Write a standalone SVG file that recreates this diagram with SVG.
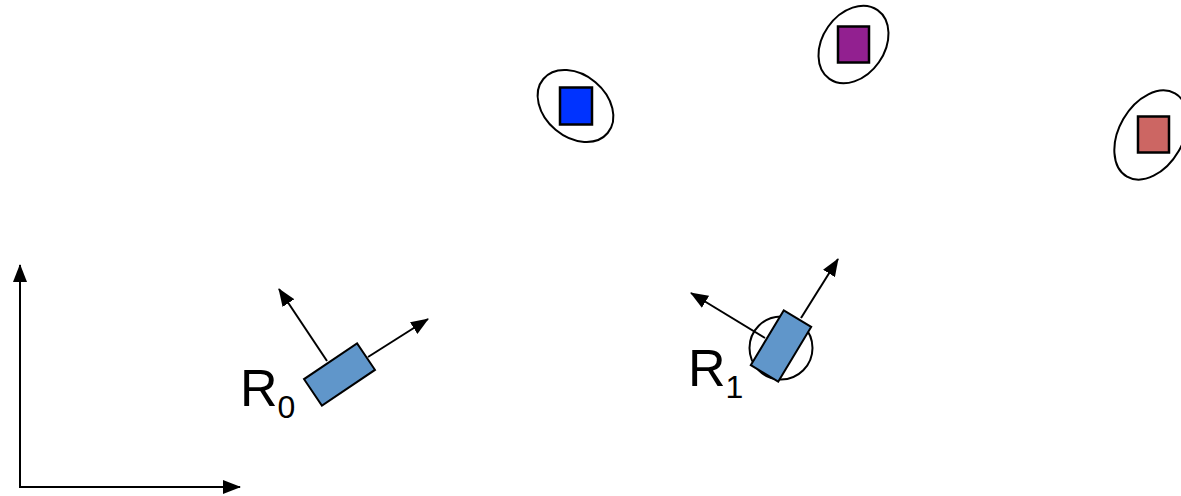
<svg xmlns="http://www.w3.org/2000/svg" width="1181" height="496" viewBox="0 0 1181 496">
<style>
.ln{stroke:#000;stroke-width:2;fill:none;marker-end:url(#ah)}
.ell{fill:none;stroke:#000;stroke-width:2}
.lm{stroke:#000;stroke-width:2.5}
.rob{fill:#6096CA;stroke:#000;stroke-width:2}
.lbl{font-family:"Liberation Sans",Arial,sans-serif;fill:#000}
</style>
<defs>
<marker id="ah" markerWidth="18" markerHeight="14" refX="17" refY="7" orient="auto" markerUnits="userSpaceOnUse">
<path d="M0,0 L18,7 L0,14 Z" fill="#000"/>
</marker>
</defs>
<g id="connectors">
<line class="ln" x1="20" y1="488" x2="20" y2="265"/>
<line class="ln" x1="19" y1="487" x2="240" y2="487"/>
<line class="ln" x1="327" y1="361" x2="279" y2="289"/>
<line class="ln" x1="368" y1="357" x2="428" y2="319"/>
<line class="ln" x1="765" y1="338" x2="691" y2="293"/>
<line class="ln" x1="801" y1="318" x2="838" y2="259"/>
</g>
<g id="landmark-blue">
<ellipse class="ell" cx="575.5" cy="106" rx="42" ry="31" transform="rotate(40 575.5 106)"/>
<rect class="lm" x="560" y="87.5" width="32" height="37" fill="#0033FF"/>
</g>
<g id="landmark-purple">
<ellipse class="ell" cx="853.5" cy="44.5" rx="42" ry="31" transform="rotate(-55 853.5 44.5)"/>
<rect class="lm" x="838" y="26.5" width="31" height="36" fill="#922090"/>
</g>
<g id="landmark-red">
<ellipse class="ell" cx="1151" cy="135" rx="48" ry="32" transform="rotate(-60 1151 135)"/>
<rect class="lm" x="1138" y="116.5" width="31" height="36" fill="#CC6663"/>
</g>
<g id="robot-R0">
<rect class="rob" x="307.5" y="358.5" width="64" height="32" transform="rotate(-34 339.5 374.5)"/>
<text class="lbl" x="240" y="406" font-size="52">R<tspan font-size="32" dy="12">0</tspan></text>
</g>
<g id="robot-R1">
<circle class="ell" cx="781" cy="348" r="31.5"/>
<rect class="rob" x="765" y="314" width="32" height="64" transform="rotate(31 781 346)"/>
<text class="lbl" x="688" y="386" font-size="52">R<tspan font-size="32" dy="12">1</tspan></text>
</g>
</svg>
